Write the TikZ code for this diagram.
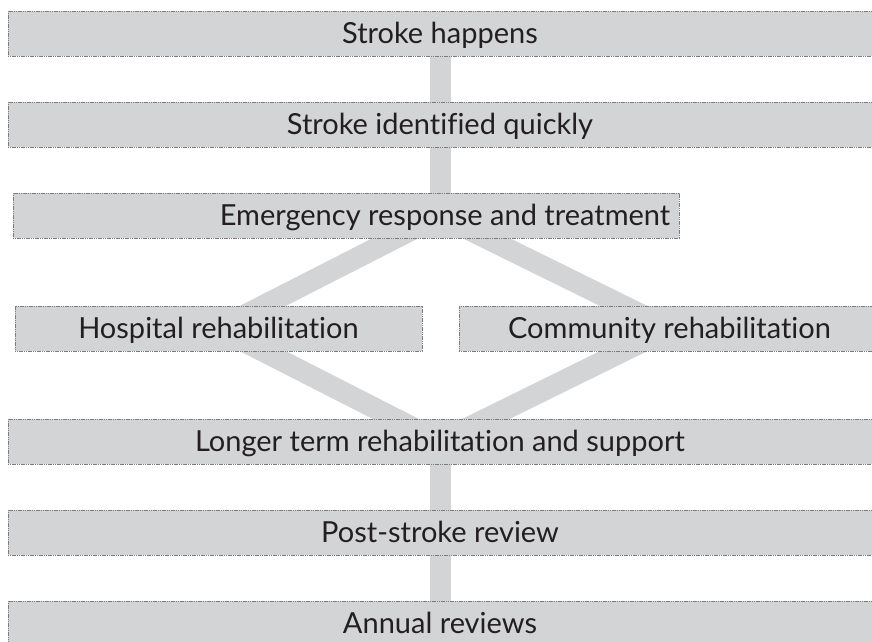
\documentclass[tikz,border=0pt]{standalone}
\usepackage{fontspec}
\setmainfont{Lato}[Ligatures=NoCommon]
\usetikzlibrary{backgrounds}
\definecolor{boxgrey}{HTML}{D3D4D6}
\definecolor{edgegrey}{HTML}{7C7C7E}
\definecolor{inkgrey}{HTML}{231F20}
\tikzset{
  words/.style={inner sep=0pt, text height=20.5pt, text depth=0pt,
    text=inkgrey, font=\fontsize{29}{32}\selectfont},
  stage/.style={words, draw=edgegrey, fill=boxgrey, line width=0.8pt,
    dash pattern=on 1.2pt off 0.6pt, minimum height=45pt},
  link/.style={draw=boxgrey, line width=21pt},
}

\begin{document}
\begin{tikzpicture}[x=1pt, y=-1pt]
        \useasboundingbox (0, 0) rectangle (872, 641);
        \node[stage, minimum width=864pt] (happens) at (440, 33.5) {Stroke happens};
        \node[stage, minimum width=864pt] (identified) at (440, 124.5) {Stroke identified quickly};
        \node[stage, minimum width=666pt] (emergency) at (346, 215.5) {};
        \node[words] (emergencytext) at (445, 215.5) {Emergency response and treatment};
        \node[stage, minimum width=407pt] (hospital) at (218.5, 328.5) {Hospital rehabilitation};
        \node[stage, minimum width=421pt] (community) at (669.5, 328.5) {Community rehabilitation};
        \node[stage, minimum width=864pt] (longer) at (440, 441.5) {Longer term rehabilitation and support};
        \node[stage, minimum width=864pt] (review) at (440, 532.5) {Post-stroke review};
        \node[stage, minimum width=864pt] (annual) at (440, 623.5) {Annual reviews};
        \coordinate (fork) at (identified |- emergency);
        % grey bars behind the boxes, centre to centre
        \begin{pgfonlayer}{background}
          \draw[link] (happens.center) -- (identified.center) -- (fork);
          \draw[link] (fork) -- (hospital.center) -- (longer.center);
          \draw[link] (fork) -- (community.center) -- (longer.center);
          \draw[link] (longer.center) -- (review.center) -- (annual.center);
        \end{pgfonlayer}
      \end{tikzpicture}
\end{document}
